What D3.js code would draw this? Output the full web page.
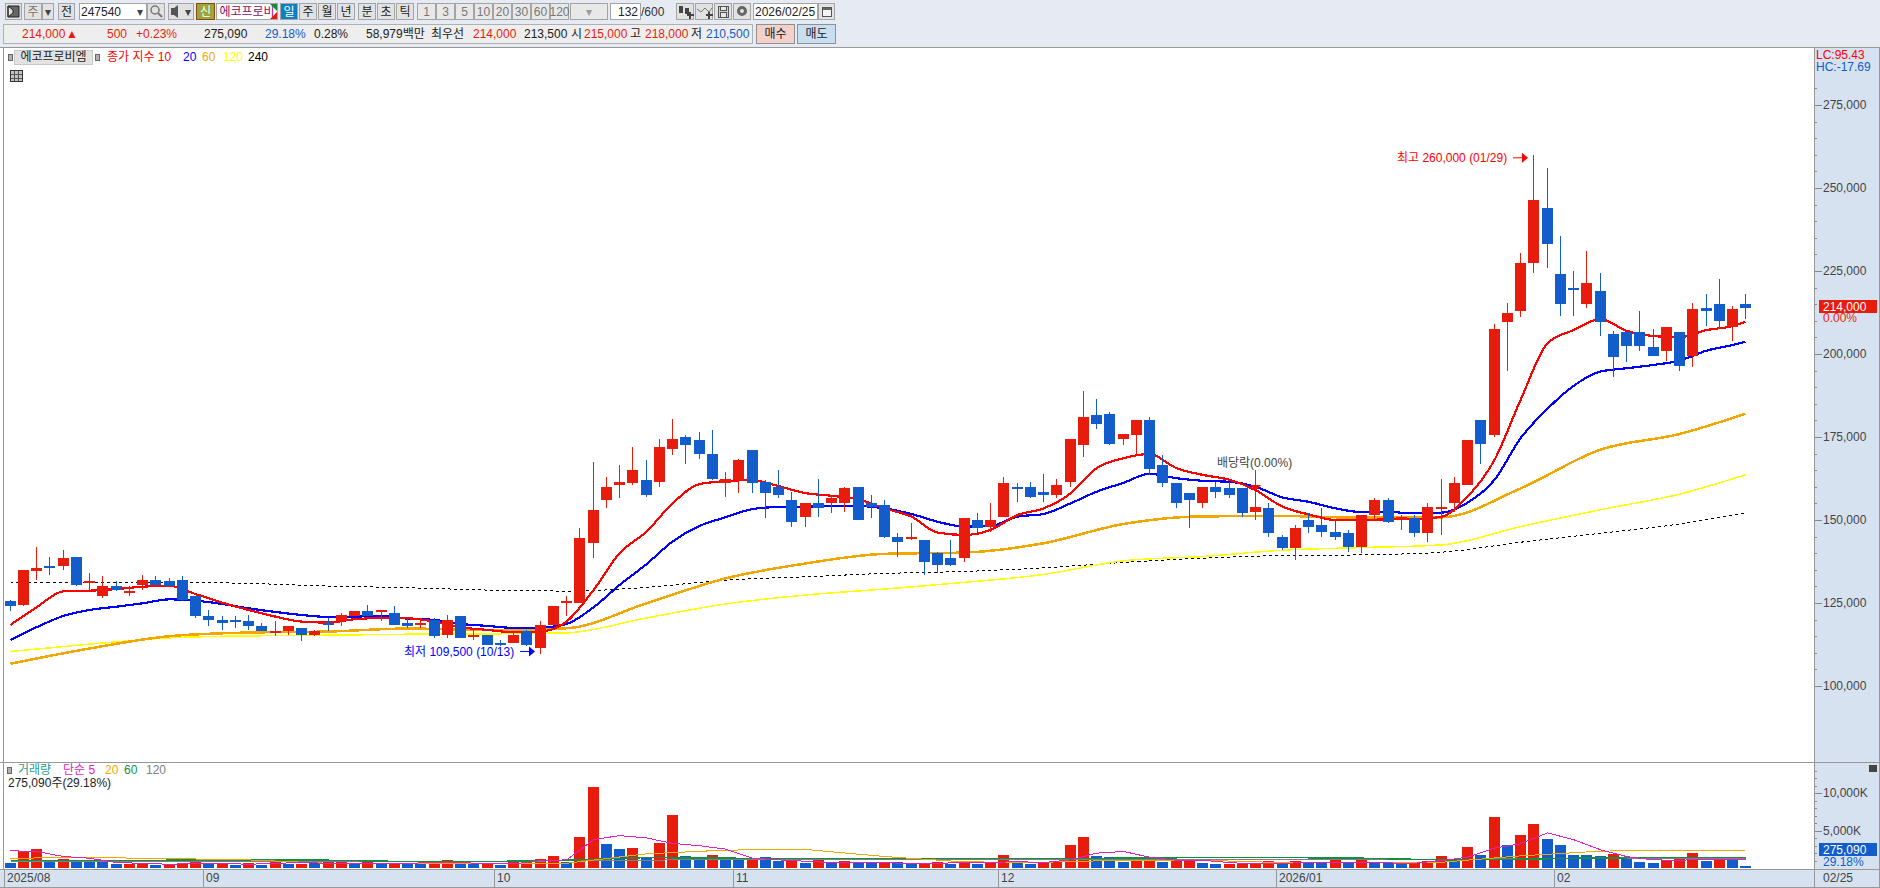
<!DOCTYPE html>
<html lang="ko">
    <head>
        <meta charset="utf-8">
        <title>에코프로비엠 일봉</title>
        <script src="https://d3js.org/d3.v7.min.js"></script>
        <style type="text/css">
            body { margin: 0; background: #e6ebf3; }
            svg { display: block; }
            text { font-family: "Liberation Sans", "Noto Sans CJK KR", sans-serif; font-size: 12px; }
            .crisp { shape-rendering: crispEdges; }
        </style>
    </head>
    <body>
        <script>
        // trading days shown on the chart
        const dates = [
            "08/08","08/11","08/12","08/13","08/14","08/18","08/19","08/20","08/21","08/22","08/25","08/26","08/27","08/28","08/29",
            "09/01","09/02","09/03","09/04","09/05","09/08","09/09","09/10","09/11","09/12","09/15","09/16","09/17","09/18","09/19","09/22","09/23","09/24","09/25","09/26","09/29","09/30",
            "10/01","10/02","10/10","10/13","10/14","10/15","10/16","10/17","10/20","10/21","10/22","10/23","10/24","10/27","10/28","10/29","10/30","10/31",
            "11/03","11/04","11/05","11/06","11/07","11/10","11/11","11/12","11/13","11/14","11/17","11/18","11/19","11/20","11/21","11/24","11/25","11/26","11/27","11/28",
            "12/01","12/02","12/03","12/04","12/05","12/08","12/09","12/10","12/11","12/12","12/15","12/16","12/17","12/18","12/19","12/22","12/23","12/24","12/26","12/29","12/30",
            "01/02","01/05","01/06","01/07","01/08","01/09","01/12","01/13","01/14","01/15","01/16","01/19","01/20","01/21","01/22","01/23","01/26","01/27","01/28","01/29","01/30",
            "02/02","02/03","02/04","02/05","02/06","02/09","02/10","02/11","02/12","02/13","02/19","02/20","02/23","02/24","02/25"
        ];

        // prices
        const open = [
            125500,124500,134500,136000,136000,139000,131000,127000,130000,128000,130500,132000,131500,132000,127000,121000,120000,120000,119500,118000,
            116000,116500,117500,115500,119000,119500,121000,122500,122500,122000,119000,118500,120000,115500,121000,115000,115500,113000,113000,116500,
            111500,118500,125000,125000,143000,156000,160500,161000,162000,161500,171500,175000,174000,170000,161000,162000,171000,161500,160000,156000,
            151000,155000,155000,155000,160000,155000,154500,145000,144500,144000,140000,138500,138500,150000,148000,151000,160000,160000,158500,157500,
            161500,172500,181500,182000,174500,175500,180000,166500,161000,158000,155000,160000,159500,159500,152500,153500,145000,141500,150000,148500,
            146500,146000,142000,151500,156000,150000,150500,146000,153500,155000,160500,180000,175500,209500,213000,227500,244000,224000,220000,215000,
            219000,206000,206500,206500,202000,201000,206500,199500,214000,215000,208000,215000
        ];
        const high = [
            126000,135000,142000,139000,141000,139000,134000,133000,131500,130000,133500,133000,132500,133000,127000,123000,121000,121000,121500,119000,
            119500,118000,117500,117000,120500,122000,122500,124500,123000,124000,120500,120500,120500,121500,121000,117000,115500,114000,116500,117000,
            119500,124000,127000,147500,167500,163000,166500,172000,168000,174500,180500,175500,176500,177000,164500,168500,171000,162000,165000,158500,
            155000,162500,157500,160000,160000,157500,156000,146000,149000,144000,140500,144000,150500,152000,155000,163000,161000,161500,164000,162500,
            174500,189000,186500,182500,176000,180000,181000,169500,161000,158000,160000,161500,161500,159500,165000,155000,145500,148500,152000,153500,
            150000,147000,151500,156500,156500,151500,151500,155000,162500,163000,174000,180000,209000,215500,230500,260000,256000,235500,225000,231000,
            224500,207000,206500,213000,207500,208000,206500,215500,218000,222500,214500,218000
        ];
        const low = [
            122500,124000,132000,133500,135000,130000,129000,126500,128500,127000,129000,130000,130000,125500,120500,118000,117000,117500,117000,116500,
            115000,115500,113500,115000,116500,118000,121000,121000,119500,118500,117500,117500,114500,114500,114500,114000,112500,112000,113000,112000,
            109500,118500,121000,125000,138500,153500,156500,160500,157000,160000,169500,167000,168500,162000,157000,158000,158000,150500,156500,148000,
            148000,151000,152000,152500,150000,150500,144500,139000,144000,133500,134000,136000,137500,146000,146500,151000,155500,156500,155500,156500,
            160000,169000,177500,172500,172500,170000,163500,160000,153500,147500,153500,156500,156500,151000,150000,145000,141000,138000,146000,145000,
            144000,140500,140000,150000,149000,147000,145000,143500,145500,152500,160500,167000,175000,195000,211000,224500,226000,211500,211500,214000,
            205500,193000,197500,201000,199500,198000,195000,196000,208500,207500,204000,210500
        ];
        const close = [
            124000,135000,135500,135500,138500,130500,131500,130000,129000,128500,132000,130500,130000,126000,121000,120000,119000,119500,118000,116500,
            116500,118000,115500,116500,118500,121500,122500,121000,123000,118500,118000,119000,115000,120000,114500,115500,112500,112500,115500,112500,
            118500,124000,125500,144500,153000,160000,161500,165000,157500,172000,174500,172500,170000,162500,162500,168000,161000,158000,157500,149500,
            155000,153500,156500,159500,150000,154000,145000,143500,145000,137500,136500,136500,150500,147500,150000,161000,159500,157000,157500,160500,
            174500,181000,179000,173000,176000,180000,165500,161000,155000,156000,160000,158500,157500,152000,154000,146000,141500,147500,148000,146500,
            145000,142000,151500,156000,149500,151000,146000,154000,154000,161000,174000,173000,207500,212500,227500,246500,233000,215000,219500,221500,
            209500,199000,202500,202500,199500,208000,196500,213500,213000,210000,213500,214000
        ];

        // price moving averages, read every 2nd day (10, 20) or every 6th day (60, 120, 240)
        const ma10 = [
            118400,123700,128500,128700,129200,129900,130200,127700,125100,122900,120900,119400,119100,120100,120500,120400,119400,117700,116900,116200,116400,119400,
            128900,140000,146500,155000,160800,161700,162000,160200,158100,157300,156200,153500,151000,146200,145500,147000,151500,153500,
            158000,165600,168600,169900,165600,163600,162100,159000,154000,151700,150000,150000,150200,150200,151000,157000,168100,186100,
            203200,207200,210500,207000,205400,205000,207200,208400,209700
        ];
        const ma20 = [
            113900,117700,121100,122900,123900,124900,126100,125700,124700,123400,122300,121400,120800,120900,121100,120300,119900,118700,118100,117500,117600,118700,
            123700,130400,136700,143500,148200,150800,153300,153900,154000,154200,154200,153500,151800,149500,148000,148200,151000,151800,
            155000,158500,161200,163900,162600,161800,161500,160000,156800,155500,153500,152400,152400,152000,152200,155200,162100,174600,
            183500,190400,194700,195700,196700,198000,201000,202700,203700
        ];
        const ma60 = [106700,111300,115000,116100,116400,117300,116900,117400,124900,132400,136900,139800,140200,143000,148800,151100,151200,150700,150800,159500,171200,175900,182000];
        const ma120 = [110400,112600,114500,115100,115300,115600,115700,116000,120500,124700,127400,129200,131200,133600,137700,139000,140900,141700,142500,148000,153100,157800,163600];
        const ma240 = [131200,131200,131200,130900,130100,129600,128900,128600,129700,131900,132900,133900,134500,135600,137200,138500,139300,139500,140300,143300,146000,148800,152100];

        // volume in thousands of shares, and whether the bar is red (up on the previous day)
        const volume = [
            675,2295,2565,855,1215,855,855,855,540,540,675,405,450,540,810,585,675,405,675,405,
            855,540,540,720,945,855,540,855,540,675,540,540,810,1080,540,540,540,405,855,855,
            1215,1620,855,4185,10800,3240,2565,2700,1440,3375,7020,1620,1080,1755,1080,1080,1395,1485,945,945,
            675,1080,675,945,765,765,810,810,585,630,810,585,810,585,675,1755,675,540,810,855,
            3105,4185,1620,1440,810,1080,1440,810,1125,945,675,540,540,630,540,945,810,945,810,810,
            1080,810,1080,810,675,675,810,945,1620,945,2835,1755,6750,3015,4455,5805,3915,3105,1755,1755,
            1620,1890,1485,810,675,1080,1215,2025,945,1215,1080,275
        ];
        const volumeUp = [
            0,1,1,0,1,0,0,0,0,1,1,0,1,1,1,0,1,0,1,0,1,0,1,0,1,1,0,1,0,1,0,0,1,1,0,0,1,0,1,1,1,1,0,1,1,0,0,1,
            0,1,1,0,0,1,0,0,1,0,0,1,0,1,0,1,0,0,1,0,0,1,1,0,1,0,1,1,0,0,1,1,1,1,0,0,0,1,1,0,1,1,0,0,1,1,1,1,
            0,1,0,0,1,0,1,0,0,0,1,1,1,0,1,0,1,0,1,1,0,0,0,0,0,1,0,0,0,1,1,1,0,1,0,0
        ];
        // volume averages: 5 read every 2nd day, the rest every 6th day
        const vol5 = [
            2295,2205,1530,1305,720,630,495,630,630,495,630,720,630,630,630,630,720,720,585,540,990,1080,
            3780,4320,4005,3285,2970,2520,1305,1080,900,720,720,720,585,630,720,720,855,720,
            1080,1980,2205,1440,1035,1035,720,540,630,720,720,765,675,630,990,1440,2655,3240,
            4680,3780,2430,1530,1080,1035,1170,1170,1170
        ];
        const vol20 = [1305,1395,1260,1080,630,630,630,630,1890,2385,2475,1530,810,765,1035,1035,720,765,765,1620,2250,2385,2295];
        const vol60 = [990,990,1035,1035,1035,855,855,1035,1395,1305,1260,1260,1260,1260,1305,1395,1395,1305,1080,1170,1350,1395,1395];
        const vol120 = [900,900,900,900,900,900,900,945,1035,1170,1125,1125,1125,1125,1125,1170,1170,1170,1125,1260,1305,1305,1305];

        // axis ticks
        const priceTicks = [100000,125000,150000,175000,200000,225000,250000,275000];
        const volumeTicks = [5000,10000];
        const monthStarts = ["08/08","09/01","10/01","11/03","12/01","01/02","02/02"];
        const monthLabels = ["2025/08","09","10","11","12","2026/01","02"];
        const fineDays = d3.range(0, 132, 2).concat(131);
        const coarseDays = d3.range(0, 132, 6).concat(131);

        const RED = "#e81c0c";
        const BLUE = "#125ccb";
        const AXIS_GRAY = "#989898";
        const STRIP = "#d6e2f0";

        const width = 1880;
        const height = 888;
        const axisLeft = 1815;
        const paneTop = 47;
        const paneSplit = 762;
        const paneBottom = 869;

        const xScale = d3.scaleBand().domain(dates).range([3.9, 3.9 + 132 * 13.25]);
        const center = d => Math.floor(xScale(d) + xScale.bandwidth() / 2 - 0.5);
        const yScale = d3.scaleLinear().domain([100000, 275000]).range([686, 105]);
        const volScale = d3.scaleLinear().domain([0, 10000]).range([868, 793]);

        const svg = d3.select("body").append("svg").attr("width", width).attr("height", height);

        function box(x, y, w, h, fill, stroke) {
            return svg.append("rect").attr("class", "crisp")
                .attr("x", x).attr("y", y).attr("width", w).attr("height", h)
                .attr("fill", fill).attr("stroke", stroke || "none");
        }
        function label(str, x, y, color, anchor) {
            return svg.append("text").attr("x", x).attr("y", y).attr("dy", "0.36em")
                .attr("fill", color || "#222").attr("text-anchor", anchor || "start").text(str);
        }
        function button(x, w, str, color, fill) {
            box(x + 0.5, 3.5, w - 1, 16, fill || "#e2e2e2", "#a4a4a4");
            if (str) label(str, x + w / 2, 11.5, color || "#222", "middle");
        }
        function plus(x, y) {
            box(x - 3, y - 1, 7, 2, "#444");
            box(x - 1, y - 3, 2, 7, "#444");
        }

        // panes and strips
        box(0, paneTop, width, height - paneTop, "#fff");
        box(axisLeft, paneTop, width - axisLeft, paneBottom - paneTop, STRIP);
        box(0, paneBottom, width, height - paneBottom, STRIP);

        // toolbar row 1
        button(5, 17, "");
        svg.append("path").attr("d", "M8 6h11v11H8z M8 6v11l5-4v-3z").attr("fill", "#333").attr("fill-opacity", 0.7).attr("stroke", "#222");
        button(24, 18, "주", "#777");
        button(42, 12, "▾", "#444");
        button(58, 17, "전");
        box(79.5, 3.5, 67, 16, "#fff", "#a4a4a4");
        label("247540", 81, 11.5);
        label("▾", 140, 11.5, "#444", "middle");
        button(147, 18, "");
        svg.append("circle").attr("cx", 155).attr("cy", 10).attr("r", 4).attr("fill", "none").attr("stroke", "#777").attr("stroke-width", 1.5);
        svg.append("line").attr("x1", 158).attr("y1", 13).attr("x2", 162).attr("y2", 17).attr("stroke", "#777").attr("stroke-width", 2);
        button(168, 26, "");
        svg.append("path").attr("d", "M171 8h3l4-3v13l-4-3h-3z").attr("fill", "#555");
        label("▾", 188, 11.5, "#444", "middle");
        box(196.5, 3.5, 18, 16, "#9aa53a", "#8a4a10");
        label("신", 205.5, 11.5, "#fff", "middle");
        box(216.5, 3.5, 61, 16, "#fff", "#a4a4a4");
        label("에코프로비", 247, 11.5, "#8a1060", "middle");
        svg.append("path").attr("d", "M270 4h7v7z").attr("fill", "#188a3a");
        svg.append("path").attr("d", "M277 12v7h-7z").attr("fill", RED);
        button(280, 18, "일", "#fff", "#0f7fc0");
        ["주", "월", "년"].forEach((s, i) => button(299 + i * 19, 18, s));
        ["분", "초", "틱"].forEach((s, i) => button(358 + i * 19, 18, s));
        ["1", "3", "5", "10", "20", "30", "60", "120"].forEach((s, i) => button(417 + i * 19, 19, s, "#777", "#e8e8e8"));
        button(570, 38, "▾", "#999", "#e8e8e8");
        box(610.5, 3.5, 30, 16, "#fff", "#a4a4a4");
        label("132", 638, 11.5, "#222", "end");
        label("/600", 641, 11.5, "#333");

        // chart tool icons
        [676, 695, 714, 733].forEach(x => button(x, 18, ""));
        box(679, 6, 4, 7, "#444");
        box(685, 8, 4, 6, "#444");
        plus(690, 15);
        svg.append("path").attr("d", "M697 9l4 3l4-4l4 4l3-4").attr("fill", "none").attr("stroke", "#777");
        plus(709, 15);
        box(718.5, 6.5, 10, 11, "#cfcfcf", "#555");
        box(720.5, 6.5, 6, 4, "#e8e8e8", "#555");
        box(720.5, 12.5, 6, 5, "#e8e8e8", "#555");
        svg.append("circle").attr("cx", 742).attr("cy", 11).attr("r", 3.5).attr("fill", "none").attr("stroke", "#666").attr("stroke-width", 3);
        box(753.5, 3.5, 64, 16, "#fff", "#a4a4a4");
        label("2026/02/25", 755, 11.5);
        button(818, 17, "");
        box(822.5, 7.5, 9, 9, "#f4f4f4", "#555");
        box(823, 8, 8, 2, "#666");

        // toolbar row 2
        box(3.5, 24.5, 749, 19, "#eeeeee", "#b0b0b0");
        [175.5, 347.5, 428.5, 569.5].forEach(x => box(x, 25, 0.5, 18, "#b0b0b0"));
        [
            ["214,000", 22, RED], ["▲", 66, RED], ["500", 107, RED], ["+0.23%", 136, RED],
            ["275,090", 204, "#222"], ["29.18%", 265, BLUE], ["0.28%", 314, "#222"],
            ["58,979백만", 366, "#222"], ["최우선", 431, "#222"], ["214,000", 473, RED], ["213,500", 524, "#222"],
            ["시", 571, "#222"], ["215,000", 584, RED], ["고", 630, "#222"], ["218,000", 645, RED],
            ["저", 691, "#222"], ["210,500", 706, BLUE]
        ].forEach(t => label(t[0], t[1], 34, t[2]));
        box(756.5, 24.5, 38, 19, "#f4d0ca", "#909090");
        label("매수", 775.5, 34, "#222", "middle");
        box(797.5, 24.5, 38, 19, "#c8dff2", "#909090");
        label("매도", 816.5, 34, "#222", "middle");

        // legend of the price pane
        box(8, 54, 4, 6, "#b0b0b0", "#666");
        box(14.5, 50.5, 78, 14, "#e2e2e2", "#c8c8c8");
        label("에코프로비엠", 53.5, 57, "#222", "middle");
        box(95, 54, 4, 6, "#b0b0b0", "#666");
        label("종가 지수 10", 107, 57, "#ff0000");
        label("20", 183, 57, "#0000ff");
        label("60", 202, 57, "#f0a800");
        label("120", 223, 57, "#ffff00");
        label("240", 248, 57, "#000");
        box(10.5, 70.5, 12, 11, "#c4c4c4", "#333");
        [74, 78].forEach(y => box(11, y, 11, 0.5, "#555"));
        [14, 18].forEach(x => box(x, 71, 0.5, 10, "#555"));

        // moving averages go under the candles
        const maLine = (days, scale) => d3.line().x((d, i) => center(dates[days[i]]) + 0.5).y(d => scale(d));
        [
            [ma240, coarseDays, "#000", 1, "3 3"],
            [ma120, coarseDays, "#ffff00", 1.5],
            [ma60, coarseDays, "#f0a800", 2.5],
            [ma20, fineDays, "#0000ff", 2.2],
            [ma10, fineDays, "#ff0000", 2.2]
        ].forEach(s => {
            svg.append("path").attr("class", "crisp")
                .attr("d", maLine(s[1], yScale).curve(d3.curveMonotoneX)(s[0]))
                .attr("fill", "none").attr("stroke", s[2]).attr("stroke-width", s[3])
                .attr("stroke-dasharray", s[4] || null);
        });

        // candles
        const candleColor = i => close[i] >= open[i] ? RED : BLUE;
        const candles = svg.append("g").attr("class", "crisp").selectAll("g").data(dates).enter().append("g");
        candles.append("line")
            .attr("x1", d => center(d) + 0.5).attr("x2", d => center(d) + 0.5)
            .attr("y1", (d, i) => yScale(high[i])).attr("y2", (d, i) => yScale(low[i]))
            .attr("stroke", (d, i) => candleColor(i));
        candles.append("rect")
            .attr("x", d => center(d) - 5).attr("width", 11)
            .attr("y", (d, i) => yScale(Math.max(open[i], close[i])))
            .attr("height", (d, i) => Math.max(2, Math.abs(yScale(open[i]) - yScale(close[i]))))
            .attr("fill", (d, i) => candleColor(i));

        // notes on the candles
        const hiX = center("01/29");
        const loX = center("10/13");
        label("최고 260,000 (01/29)", hiX - 136, yScale(260000) + 3, "#ff0000");
        svg.append("line").attr("x1", hiX - 20).attr("x2", hiX - 8).attr("y1", yScale(260000) + 3).attr("y2", yScale(260000) + 3).attr("stroke", "#ff0000");
        svg.append("path").attr("d", `M${hiX - 11} ${yScale(260000) - 2}l6 5l-6 5z`).attr("fill", "#ff0000");
        label("최저 109,500 (10/13)", loX - 136, yScale(109500) - 3, "#0000ff");
        svg.append("line").attr("x1", loX - 20).attr("x2", loX - 8).attr("y1", yScale(109500) - 3).attr("y2", yScale(109500) - 3).attr("stroke", "#0000ff");
        svg.append("path").attr("d", `M${loX - 11} ${yScale(109500) - 8}l6 5l-6 5z`).attr("fill", "#0000ff");
        const divX = center("12/29");
        label("배당락(0.00%)", divX - 38, 463, "#444");
        svg.append("path").attr("d", `M${divX - 5} 485h11l-5.5 6z`).attr("fill", "#ff0000");

        // volume pane
        svg.append("g").attr("class", "crisp").selectAll("rect").data(dates).enter().append("rect")
            .attr("x", d => center(d) - 5).attr("width", 11)
            .attr("y", (d, i) => volScale(volume[i]))
            .attr("height", (d, i) => volScale(0) - volScale(volume[i]))
            .attr("fill", (d, i) => volumeUp[i] ? RED : BLUE);
        [
            [vol120, coarseDays, "#808080", 1],
            [vol60, coarseDays, "#109040", 1.5],
            [vol20, coarseDays, "#f0a800", 1],
            [vol5, fineDays, "#e020c0", 1]
        ].forEach(s => {
            svg.append("path").attr("class", "crisp").attr("d", maLine(s[1], volScale)(s[0]))
                .attr("fill", "none").attr("stroke", s[2]).attr("stroke-width", s[3]);
        });
        box(7, 767, 4, 6, "#b0b0b0", "#666");
        label("거래량", 18, 770, "#2a9d8f");
        label("단순 5", 63, 770, "#e020c0");
        label("20", 105, 770, "#f0a800");
        label("60", 124, 770, "#109040");
        label("120", 146, 770, "#808080");
        label("275,090주(29.18%)", 8, 783, "#222");

        // pane borders
        box(3, paneTop, 1, paneBottom - paneTop, AXIS_GRAY);
        box(0, paneTop, width, 1, AXIS_GRAY);
        box(0, paneSplit, width, 1, AXIS_GRAY);
        box(0, paneBottom, width, 1, AXIS_GRAY);
        box(0, height - 1, width, 1, AXIS_GRAY);
        box(axisLeft - 1, paneTop, 1, height - paneTop, AXIS_GRAY);
        box(width - 1, paneTop, 1, height - paneTop, AXIS_GRAY);

        // right axes
        function rightAxis(scale, values, size, format) {
            const g = svg.append("g").attr("class", "crisp").attr("transform", `translate(${axisLeft},0)`)
                .call(d3.axisRight(scale).tickValues(values).tickSize(size).tickPadding(1).tickFormat(format));
            g.select(".domain").remove();
            g.selectAll("line").attr("stroke", "#888");
            g.selectAll("text").attr("fill", "#444");
            return g;
        }
        rightAxis(yScale, d3.range(100000, 285000, 5000), 2, "");
        rightAxis(yScale, priceTicks, 7, d3.format(","));
        rightAxis(volScale, d3.range(1000, 14000, 1000), 2, "");
        rightAxis(volScale, volumeTicks, 7, d => d3.format(",")(d) + "K");

        label("LC:95.43", 1816, 55, "#ff0000");
        label("HC:-17.69", 1816, 67, BLUE);
        box(1819, 300, 58, 13, RED);
        label("214,000", 1823, 306.5, "#fff");
        label("0.00%", 1823, 318, RED);
        box(1819, 843, 58, 13, BLUE);
        label("275,090", 1823, 849.5, "#fff");
        label("29.18%", 1823, 861.5, BLUE);
        box(1869, 765, 8, 7, "#444");

        // month axis
        monthStarts.forEach((d, i) => {
            box(Math.round(xScale(d)), paneBottom, 1, height - paneBottom, AXIS_GRAY);
            label(monthLabels[i], Math.round(xScale(d)) + 3, 878, "#444");
        });
        label("02/25", 1823, 878, "#444");
        </script>
    </body>
</html>
